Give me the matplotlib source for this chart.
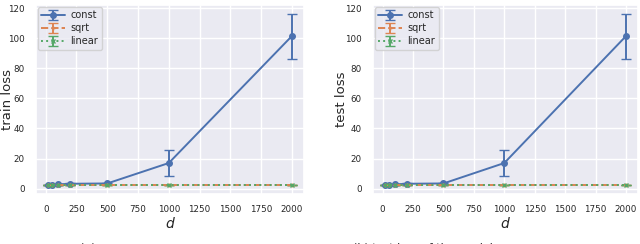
import matplotlib
matplotlib.use("Agg")
import matplotlib.pyplot as plt
import seaborn as sns
import numpy as np

sns.set_theme(style="darkgrid")
plt.rcParams['font.family'] = ['DejaVu Sans']

d = [20, 50, 100, 200, 500, 1000, 2000]
const_mean = [2.3, 2.4, 2.8, 3.2, 3.4, 17.0, 101.5]
const_err = [0.2, 0.2, 0.3, 0.3, 0.4, 8.5, 15.0]
sqrt_mean = [2.3, 2.3, 2.3, 2.3, 2.3, 2.3, 2.3]
sqrt_err = [0.1, 0.1, 0.1, 0.1, 0.1, 0.1, 0.1]
linear_mean = [2.3, 2.3, 2.3, 2.3, 2.3, 2.3, 2.3]
linear_err = [0.1, 0.1, 0.1, 0.1, 0.1, 0.1, 0.1]

ylabels = ["train loss", "test loss"]
captions = ["(a)", "(b) test loss of the model"]

W, H = 640, 244
fig = plt.figure(figsize=(6.4, 2.44), dpi=100)
positions = [[36 / W, 50 / H, 268 / W, 189 / H], [373 / W, 50 / H, 265 / W, 189 / H]]
label_x = [14 / W, 348 / W]
caption_x = [80 / W, 353 / W]
pal = sns.color_palette()
for i, pos in enumerate(positions):
    ax = fig.add_axes(pos)
    ax.errorbar(d, const_mean, yerr=const_err, color=pal[0], linestyle='-', marker='o',
                markersize=4, capsize=3.5, linewidth=1.4, label='const')
    ax.errorbar(d, sqrt_mean, yerr=sqrt_err, color=pal[1], linestyle='--', marker='+',
                markersize=3, capsize=3.5, linewidth=1.4, label='sqrt')
    ax.errorbar(d, linear_mean, yerr=linear_err, color=pal[2], linestyle=':', marker='x',
                markersize=3, capsize=3.5, linewidth=1.4, label='linear')
    ax.set_yticks([0, 20, 40, 60, 80, 100, 120])
    ax.set_xticks([0, 250, 500, 750, 1000, 1250, 1500, 1750, 2000])
    ax.tick_params(labelsize=6.3, pad=2)
    ax.set_ylabel(ylabels[i], fontsize=9.5)
    ax.yaxis.set_label_coords(label_x[i], pos[1] + pos[3] / 2, transform=fig.transFigure)
    ax.set_xlabel('$d$', fontsize=10, labelpad=1)
    ax.legend(loc='upper left', fontsize=7, borderpad=0.35, labelspacing=0.3,
              handlelength=2.4, handletextpad=0.6, borderaxespad=0.2)
    fig.text(caption_x[i], 1.0 / H, captions[i], fontsize=8, va='top')

fig.savefig("out.png", dpi=100)
